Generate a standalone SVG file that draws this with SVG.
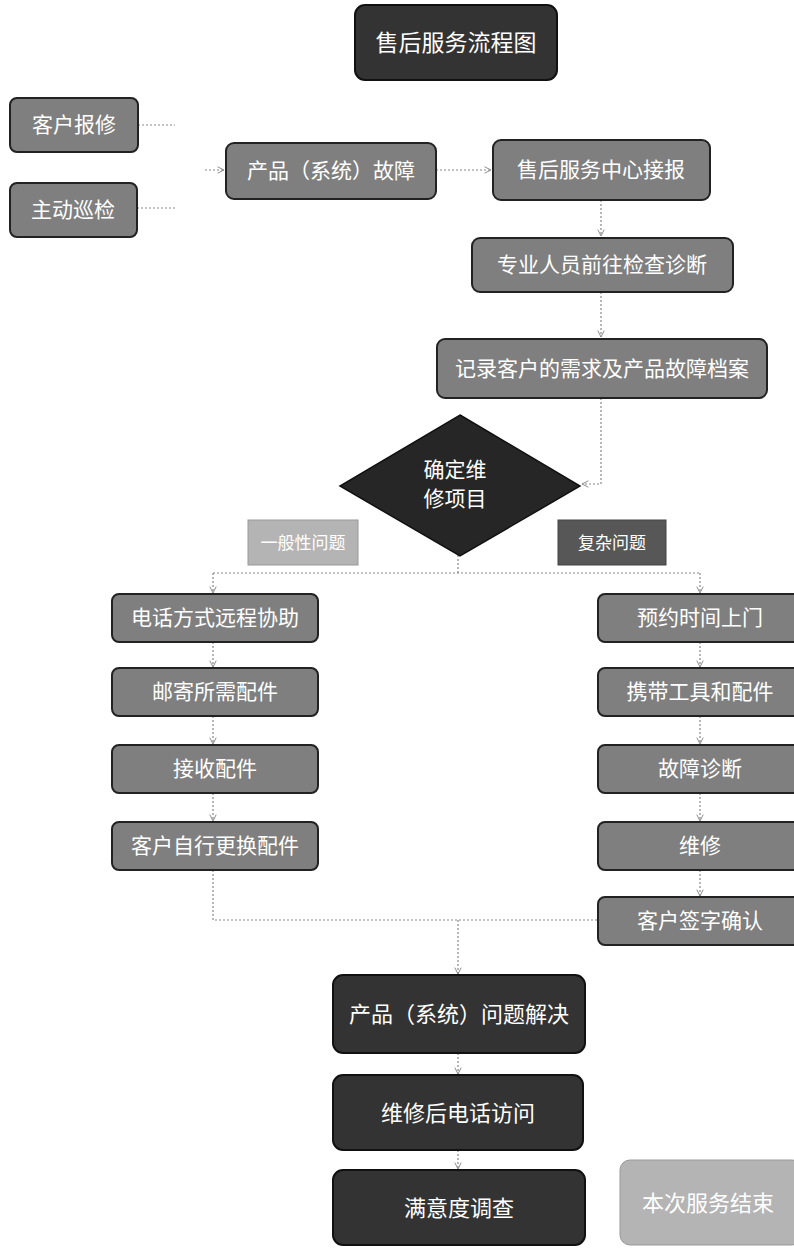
<svg xmlns="http://www.w3.org/2000/svg" width="794" height="1252" viewBox="0 0 794 1252">
<defs>
<marker id="arr" viewBox="0 0 10 10" refX="9" refY="5" markerWidth="8" markerHeight="8" orient="auto" markerUnits="userSpaceOnUse">
<path d="M1,1 L9,5 L1,9" fill="none" stroke="#888" stroke-width="1.2"/>
</marker>
<style>
.t{font-family:"Liberation Serif","Noto Sans CJK SC",serif;fill:#fff;text-anchor:middle;dominant-baseline:central;font-size:21px;}
.big{font-size:23px;}
.dark{fill:#333;stroke:#111;stroke-width:2;}
.mid{fill:#7f7f7f;stroke:#222;stroke-width:2;}
.light{fill:#b4b4b4;stroke:#999;stroke-width:1;}
.lbl{fill:#575757;stroke:#444;stroke-width:1;}
.c{fill:none;stroke:#888;stroke-width:1.2;stroke-dasharray:2 2;}
</style>
</defs>
<rect width="794" height="1252" fill="#fff"/>
<g id="connectors">
<path class="c" d="M138,125 H175"/>
<path class="c" d="M137,208 H175"/>
<path class="c" d="M205,170 H224" marker-end="url(#arr)"/>
<path class="c" d="M436,170 H491" marker-end="url(#arr)"/>
<path class="c" d="M601,200 V236" marker-end="url(#arr)"/>
<path class="c" d="M601,292 V337" marker-end="url(#arr)"/>
<path class="c" d="M601,398 V484 H582" marker-end="url(#arr)"/>
<path class="c" d="M458,555 V573"/>
<path class="c" d="M213,573 H700"/>
<path class="c" d="M213,573 V593" marker-end="url(#arr)"/>
<path class="c" d="M700,573 V593" marker-end="url(#arr)"/>
<path class="c" d="M213,642 V667" marker-end="url(#arr)"/>
<path class="c" d="M213,716 V744" marker-end="url(#arr)"/>
<path class="c" d="M213,793 V821" marker-end="url(#arr)"/>
<path class="c" d="M700,642 V667" marker-end="url(#arr)"/>
<path class="c" d="M700,716 V744" marker-end="url(#arr)"/>
<path class="c" d="M700,793 V821" marker-end="url(#arr)"/>
<path class="c" d="M700,870 V896" marker-end="url(#arr)"/>
<path class="c" d="M213,870 V920 H598"/>
<path class="c" d="M458,920 V974" marker-end="url(#arr)"/>
<path class="c" d="M458,1053 V1074" marker-end="url(#arr)"/>
<path class="c" d="M458,1150 V1169" marker-end="url(#arr)"/>
</g>
<g id="title"><rect class="dark" x="355" y="5" width="202" height="75" rx="10"/><text class="t big" x="456" y="43">售后服务流程图</text></g>
<g id="n-baoxiu"><rect class="mid" x="10" y="98" width="128" height="54" rx="7"/><text class="t" x="74" y="125">客户报修</text></g>
<g id="n-xunjian"><rect class="mid" x="10" y="183" width="127" height="54" rx="7"/><text class="t" x="73" y="210">主动巡检</text></g>
<g id="n-guzhang"><rect class="mid" x="226" y="143" width="210" height="56" rx="8"/><text class="t" x="331" y="171">产品（系统）故障</text></g>
<g id="n-jiebao"><rect class="mid" x="493" y="140" width="217" height="60" rx="8"/><text class="t" x="601" y="170">售后服务中心接报</text></g>
<g id="n-zhenduan"><rect class="mid" x="472" y="238" width="261" height="54" rx="8"/><text class="t" x="602" y="265">专业人员前往检查诊断</text></g>
<g id="n-jilu"><rect class="mid" x="437" y="339" width="330" height="59" rx="8"/><text class="t" x="602" y="369">记录客户的需求及产品故障档案</text></g>
<g id="n-queding"><polygon points="460,415 580,486 460,556 340,486" fill="#262626" stroke="#111" stroke-width="1.5"/><text class="t" x="455" y="470">确定维</text><text class="t" x="455" y="499">修项目</text></g>
<g id="l-yiban"><rect class="light" x="248" y="520" width="110" height="45"/><text class="t" x="303" y="543" style="font-size:17px">一般性问题</text></g>
<g id="l-fuza"><rect class="lbl" x="558" y="520" width="108" height="45"/><text class="t" x="612" y="543" style="font-size:17px">复杂问题</text></g>
<g id="n-l1"><rect class="mid" x="112" y="594" width="206" height="48" rx="7"/><text class="t" x="215" y="618">电话方式远程协助</text></g>
<g id="n-l2"><rect class="mid" x="112" y="668" width="206" height="48" rx="7"/><text class="t" x="215" y="692">邮寄所需配件</text></g>
<g id="n-l3"><rect class="mid" x="112" y="745" width="206" height="48" rx="7"/><text class="t" x="215" y="769">接收配件</text></g>
<g id="n-l4"><rect class="mid" x="112" y="822" width="206" height="48" rx="7"/><text class="t" x="215" y="846">客户自行更换配件</text></g>
<g id="n-r1"><rect class="mid" x="598" y="594" width="210" height="48" rx="7"/><text class="t" x="700" y="618">预约时间上门</text></g>
<g id="n-r2"><rect class="mid" x="598" y="668" width="210" height="48" rx="7"/><text class="t" x="700" y="692">携带工具和配件</text></g>
<g id="n-r3"><rect class="mid" x="598" y="745" width="210" height="48" rx="7"/><text class="t" x="700" y="769">故障诊断</text></g>
<g id="n-r4"><rect class="mid" x="598" y="822" width="210" height="48" rx="7"/><text class="t" x="700" y="846">维修</text></g>
<g id="n-r5"><rect class="mid" x="598" y="897" width="210" height="48" rx="7"/><text class="t" x="700" y="921">客户签字确认</text></g>
<g id="n-jiejue"><rect class="dark" x="333" y="975" width="252" height="78" rx="10"/><text class="t" x="459" y="1014" style="font-size:22px">产品（系统）问题解决</text></g>
<g id="n-fangwen"><rect class="dark" x="333" y="1075" width="250" height="75" rx="10"/><text class="t" x="458" y="1113" style="font-size:22px">维修后电话访问</text></g>
<g id="n-diaocha"><rect class="dark" x="333" y="1170" width="252" height="75" rx="10"/><text class="t" x="459" y="1208" style="font-size:22px">满意度调查</text></g>
<g id="n-jieshu"><rect class="light" x="620" y="1160" width="182" height="85" rx="10"/><text class="t" x="708" y="1203" style="font-size:22px">本次服务结束</text></g>
</svg>
